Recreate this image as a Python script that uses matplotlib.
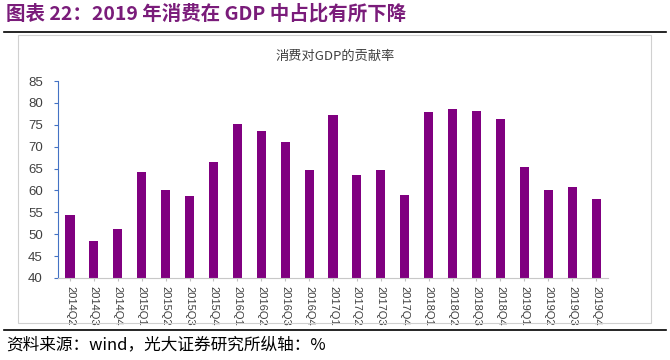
import matplotlib
matplotlib.use("Agg")
import matplotlib.pyplot as plt
from matplotlib.patches import Rectangle
from matplotlib.lines import Line2D

plt.rcParams['font.family'] = ['Noto Sans CJK SC', 'DejaVu Sans']

quarters = ["2014Q2", "2014Q3", "2014Q4",
            "2015Q1", "2015Q2", "2015Q3", "2015Q4",
            "2016Q1", "2016Q2", "2016Q3", "2016Q4",
            "2017Q1", "2017Q2", "2017Q3", "2017Q4",
            "2018Q1", "2018Q2", "2018Q3", "2018Q4",
            "2019Q1", "2019Q2", "2019Q3", "2019Q4"]
contribution = [54.5, 48.5, 51.3, 64.1, 60.0, 58.7, 66.4,
                75.2, 73.6, 71.1, 64.6, 77.2, 63.5, 64.7, 58.9,
                77.9, 78.6, 78.2, 76.3, 65.3, 60.2, 60.7, 58.0]
yticks = [40, 45, 50, 55, 60, 65, 70, 75, 80, 85]

W, H = 670, 360
fig = plt.figure(figsize=(W / 100, H / 100), dpi=100)
latin = ['Liberation Sans', 'DejaVu Sans']

# header and footer
fig.text(6 / W, 1 - 14 / H, "图表 22：2019 年消费在 GDP 中占比有所下降",
         fontsize=14, fontweight='bold', color='#7a1c7a', va='center', ha='left')
fig.add_artist(Line2D([4 / W, 1 - 4 / W], [1 - 32 / H, 1 - 32 / H], color='black', lw=1.2))
fig.add_artist(Line2D([4 / W, 1 - 4 / W], [1 - 330 / H, 1 - 330 / H], color='black', lw=1.2))
fig.text(6 / W, 1 - 345 / H, "资料来源：wind，光大证券研究所纵轴：%",
         fontsize=12, color='black', va='center', ha='left')

# chart frame
fig.add_artist(Rectangle((18 / W, 1 - 323 / H), (651 - 18) / W, (323 - 35) / H,
                         fill=False, edgecolor='#d0d0d0', lw=0.8))
fig.text(335 / W, 1 - 56 / H, "消费对GDP的贡献率", fontsize=9.5, color='#404040',
         ha='center', va='center')

ax = fig.add_axes([58 / W, 1 - 278 / H, (608 - 58) / W, (278 - 81) / H])
x = range(len(quarters))
ax.bar(x, contribution, width=0.38, color='#800080')
ax.set_ylim(40, 85)
ax.set_xlim(-0.5, len(quarters) - 0.5)
ax.set_yticks(yticks)
ax.set_yticklabels([str(v) for v in yticks], family=latin, fontsize=9.5, color='#404040')
ax.set_xticks(list(x))
ax.set_xticklabels(quarters, rotation=-90, family=latin, fontsize=8, color='#404040')
ax.tick_params(axis='y', length=3, color='#4472c4', direction='out', pad=8)
ax.tick_params(axis='x', length=2, color='#c0c0c0', pad=4)
for s in ['top', 'right']:
    ax.spines[s].set_visible(False)
ax.spines['left'].set_color('#4472c4')
ax.spines['bottom'].set_color('#c8c8c8')

fig.savefig("out.png", dpi=100)
